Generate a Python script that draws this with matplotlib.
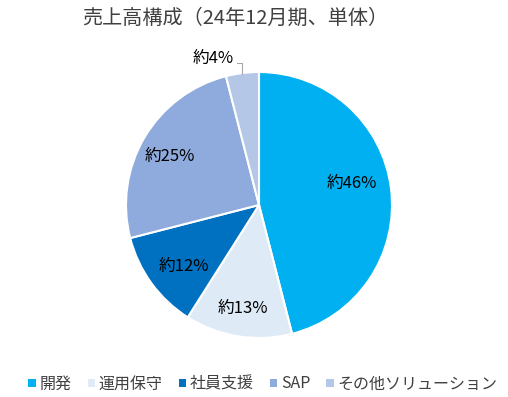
import matplotlib
matplotlib.use("Agg")
import matplotlib.pyplot as plt
import numpy as np

plt.rcParams['font.family'] = ['Noto Sans CJK JP', 'DejaVu Sans']

categories = ['開発', '運用保守', '社員支援', 'SAP', 'その他ソリューション']
values = [46, 13, 12, 25, 4]
labels = ['約46%', '約13%', '約12%', '約25%', '約4%']
colors = ['#00B0F0', '#DEEBF7', '#0070C0', '#8FAADC', '#B4C7E7']

fig = plt.figure(figsize=(5.08, 3.97), dpi=100)
ax = fig.add_axes([126 / 508, 59 / 397, 266 / 508, 266 / 397])

wedges, _ = ax.pie(values, colors=colors, startangle=90, counterclock=False,
                   wedgeprops=dict(edgecolor='white', linewidth=1.5))
ax.set_aspect('equal')
ax.set_xlim(-1, 1)
ax.set_ylim(-1, 1)

# label radius and small angular shift (deg) per slice, like excel's placement
offsets = [(0.72, 6), (0.79, 0), (0.73, 3), (0.76, 2)]
for w, lab, (r, da) in zip(wedges[:4], labels[:4], offsets):
    mid = np.deg2rad((w.theta1 + w.theta2) / 2 + da)
    ax.text(r * np.cos(mid), r * np.sin(mid), lab, ha='center', va='center',
            fontsize=12, color='#000000')

# small slice: label outside with leader line
w = wedges[4]
mid = np.deg2rad((w.theta1 + w.theta2) / 2)
x0, y0 = np.cos(mid), np.sin(mid)
ax.plot([x0, x0, x0 - 0.04], [y0 * 0.99, 1.07, 1.07], color='#A6A6A6', lw=0.8,
        clip_on=False)
ax.text(x0 - 0.22, 1.105, labels[4], ha='center', va='center', fontsize=12,
        color='#000000')

fig.text(235 / 508, 1 - 18 / 397, '売上高構成（24年12月期、単体）', ha='center', va='center',
         fontsize=14.5, color='#404040')

leg = fig.legend(wedges, categories, loc='center', bbox_to_anchor=(263 / 508, 1 - 384 / 397),
                 ncol=5, frameon=False, fontsize=11.5, handlelength=0.45, handleheight=0.45,
                 handletextpad=0.25, columnspacing=1.0, labelcolor='#404040')
for h in leg.legend_handles:
    h.set_edgecolor('none')

fig.savefig('out.png', dpi=100)
